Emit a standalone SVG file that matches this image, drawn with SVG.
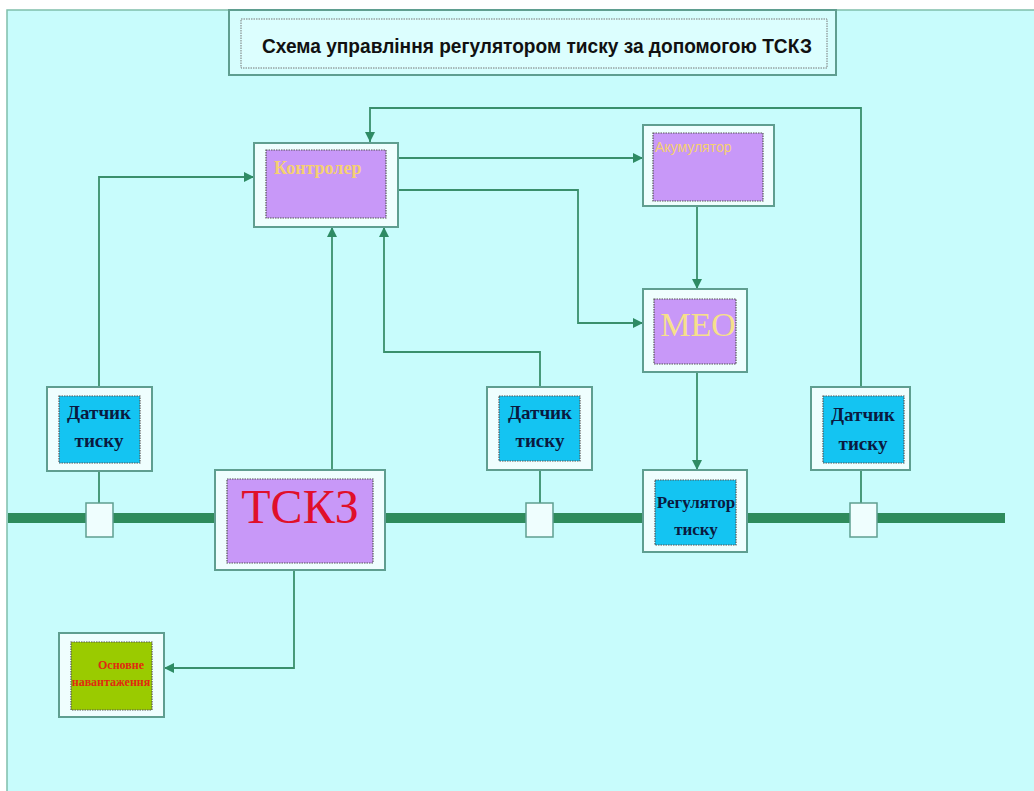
<svg xmlns="http://www.w3.org/2000/svg" width="1034" height="791" viewBox="0 0 1034 791">
<defs>
<marker id="arr" viewBox="0 0 10 10" refX="10" refY="5" markerWidth="10" markerHeight="10" markerUnits="userSpaceOnUse" orient="auto">
<path d="M0,0 L10,5 L0,10 z" fill="#2e8b64"/>
</marker>
<style>
.outer{fill:#effefe;stroke:#5f9e90;stroke-width:2}
.inner{stroke:#555;stroke-width:1.2;stroke-dasharray:1.5 1}
.pur{fill:#c898f8}
.blu{fill:#14c4f2}
.grn{fill:#9acb00}
.conn{fill:none;stroke:#3a8f6c;stroke-width:1.8}
.sq{fill:#effefe;stroke:#5f9e90;stroke-width:1.5}
.dt{font-family:"Liberation Serif",serif;font-weight:bold;font-size:19px;fill:#0a1a40;text-anchor:middle}
.rg{font-family:"Liberation Serif",serif;font-weight:bold;font-size:17px;fill:#0a1a40;text-anchor:middle}
</style>
</defs>
<rect x="0" y="0" width="1034" height="791" fill="#ffffff"/>
<rect x="7" y="10" width="1040" height="790" fill="#c8fcfc" stroke="#7fbfaa" stroke-width="1.5"/>
<line x1="8" y1="518" x2="1005" y2="518" stroke="#2e8b5c" stroke-width="10"/>
<g id="title">
<rect x="229" y="10" width="607" height="65" class="outer" style="fill:#d6fdfd"/>
<rect x="241" y="19" width="586" height="49" fill="#dcfefe" stroke="#777" stroke-width="1" stroke-dasharray="1.5 1"/>
<text x="262" y="53" font-family="Liberation Sans,Arial,sans-serif" font-weight="bold" font-size="20" fill="#111" textLength="550" lengthAdjust="spacingAndGlyphs">Схема управління регулятором тиску за допомогою ТСКЗ</text>
</g>
<g id="connectors">
<polyline class="conn" points="99,387 99,177 254,177" marker-end="url(#arr)"/>
<polyline class="conn" points="861,387 861,108 370,108 370,142" marker-end="url(#arr)"/>
<polyline class="conn" points="398,158 643,158" marker-end="url(#arr)"/>
<polyline class="conn" points="398,190 578,190 578,323 643,323" marker-end="url(#arr)"/>
<polyline class="conn" points="697,206 697,289" marker-end="url(#arr)"/>
<polyline class="conn" points="697,372 697,470" marker-end="url(#arr)"/>
<polyline class="conn" points="332,470 332,227" marker-end="url(#arr)"/>
<polyline class="conn" points="540,387 540,352 384,352 384,227" marker-end="url(#arr)"/>
<polyline class="conn" points="294,570 294,668 164,668" marker-end="url(#arr)"/>
<line class="conn" x1="99" y1="471" x2="99" y2="503"/>
<line class="conn" x1="540" y1="470" x2="540" y2="503"/>
<line class="conn" x1="861" y1="470" x2="861" y2="503"/>
</g>
<g id="controller">
<rect x="254" y="143" width="144" height="84" class="outer"/>
<rect x="266" y="150" width="120" height="68" class="inner pur"/>
<text x="274" y="174" font-family="Liberation Serif,serif" font-weight="bold" font-size="18" fill="#f5d070">Контролер</text>
</g>
<g id="accumulator">
<rect x="643" y="125" width="131" height="81" class="outer"/>
<rect x="653" y="133" width="110" height="68" class="inner pur"/>
<text x="655" y="152" font-family="Liberation Sans,Arial,sans-serif" font-size="14" fill="#f5d070">Акумулятор</text>
</g>
<g id="meo">
<rect x="643" y="289" width="104" height="83" class="outer"/>
<rect x="654" y="299" width="82" height="65" class="inner pur"/>
<text x="698" y="336" font-family="Liberation Serif,serif" font-size="34" fill="#f6e08a" text-anchor="middle">МЕО</text>
</g>
<g id="sensor1">
<rect x="47" y="387" width="105" height="84" class="outer"/>
<rect x="59" y="396" width="81" height="67" class="inner blu"/>
<text x="99" y="419" class="dt">Датчик</text>
<text x="99" y="447" class="dt">тиску</text>
<rect x="86" y="503" width="27" height="34" class="sq"/>
</g>
<g id="tskz">
<rect x="215" y="470" width="170" height="100" class="outer"/>
<rect x="227" y="479" width="146" height="84" class="inner pur"/>
<text x="300" y="523" font-family="Liberation Serif,serif" font-size="48" fill="#e0102a" text-anchor="middle">ТСКЗ</text>
</g>
<g id="sensor2">
<rect x="487" y="387" width="105" height="83" class="outer"/>
<rect x="499" y="396" width="81" height="65" class="inner blu"/>
<text x="540" y="419" class="dt">Датчик</text>
<text x="540" y="447" class="dt">тиску</text>
<rect x="526" y="503" width="27" height="34" class="sq"/>
</g>
<g id="regulator">
<rect x="643" y="470" width="104" height="82" class="outer"/>
<rect x="655" y="480" width="81" height="65" class="inner blu"/>
<text x="696" y="508" class="rg">Регулятор</text>
<text x="696" y="535" class="rg">тиску</text>
</g>
<g id="sensor3">
<rect x="811" y="387" width="99" height="83" class="outer"/>
<rect x="823" y="396" width="81" height="67" class="inner blu"/>
<text x="863" y="421" class="dt">Датчик</text>
<text x="863" y="450" class="dt">тиску</text>
<rect x="850" y="503" width="27" height="34" class="sq"/>
</g>
<g id="load">
<rect x="59" y="633" width="105" height="84" class="outer"/>
<rect x="71" y="642" width="81" height="68" class="inner grn"/>
<text x="121" y="669" font-family="Liberation Serif,serif" font-weight="bold" font-size="12" fill="#e02a10" text-anchor="middle">Основне</text>
<text x="111" y="686" font-family="Liberation Serif,serif" font-weight="bold" font-size="12" fill="#e02a10" text-anchor="middle">навантаження</text>
</g>
</svg>
